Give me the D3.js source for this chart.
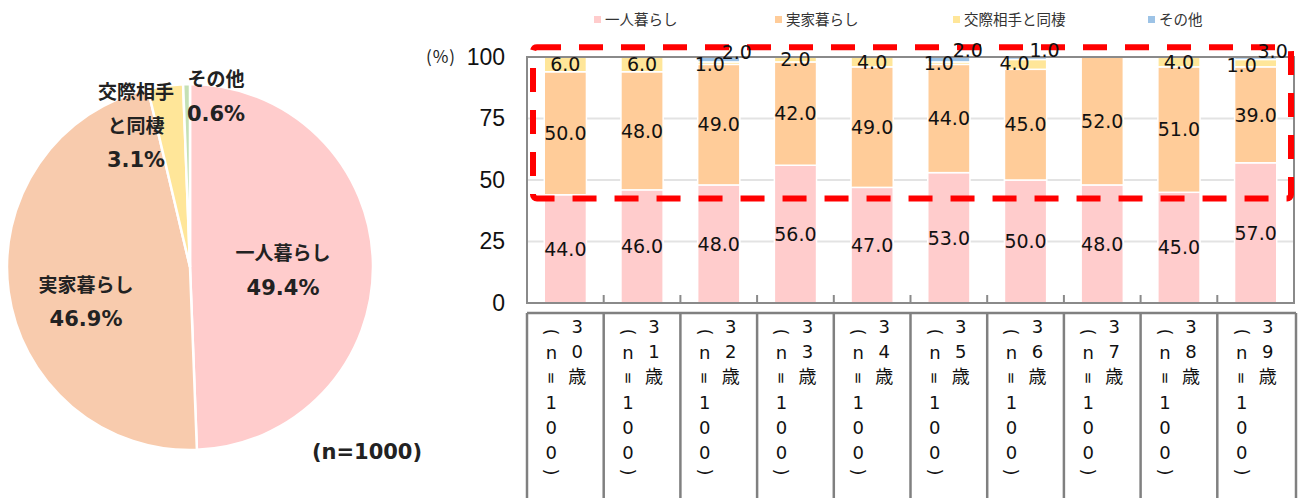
<!DOCTYPE html>
<html>
<head>
<meta charset="utf-8">
<script src="https://cdn.jsdelivr.net/npm/d3@7"></script>
<style>
  body { margin: 0; background: #fff; }
  svg { display: block; }
</style>
</head>
<body>
<svg id="chart"></svg>
<script>
// Living situation chart: overall pie + stacked bars by age

const pieNames = ['一人暮らし', '実家暮らし', '交際相手と同棲', 'その他'];
const pieValues = [49.4, 46.9, 3.1, 0.6];
const pieColors = ['#FFCCCC', '#F8CBAD', '#FFE699', '#C5E0B4'];

const ages = ['30歳', '31歳', '32歳', '33歳', '34歳', '35歳', '36歳', '37歳', '38歳', '39歳'];
const sampleText = '(n=100)';
const seriesNames = ['一人暮らし', '実家暮らし', '交際相手と同棲', 'その他'];
const alone = [44, 46, 48, 56, 47, 53, 50, 48, 45, 57];
const parents = [50, 48, 49, 42, 49, 44, 45, 52, 51, 39];
const partner = [6, 6, 1, 2, 4, 1, 4, 0, 4, 3];
const other = [0, 0, 2, 0, 0, 2, 1, 0, 0, 1];
const barColors = ['#FFCCCC', '#FFCC99', '#FFE699', '#9DC3E6'];
const yTicks = [0, 25, 50, 75, 100];

// hand placed labels where two thin segments share the top of a bar
const labelNudge = {
  '32歳': { '交際相手と同棲': [-9, 7], 'その他': [18, -5] },
  '35歳': { '交際相手と同棲': [-10, 6], 'その他': [19, -7] },
  '36歳': { '交際相手と同棲': [-11, 6], 'その他': [19, -7] },
  '39歳': { 'その他': [-14, 8], '交際相手と同棲': [17, -6] }
};

const W = 1304, H = 498;
const svg = d3.select('#chart').attr('width', W).attr('height', H);

const jp = '"Noto Sans CJK JP", "DejaVu Sans", sans-serif';
const num = '"DejaVu Sans", "Noto Sans CJK JP", sans-serif';

// ---------- pie ----------
const pieG = svg.append('g').attr('transform', 'translate(190,267)');
const pie = d3.pie().sort(null).value(d => d.v);
const arc = d3.arc().innerRadius(0).outerRadius(183);
const pieData = pie(pieNames.map((n, i) => ({ n, v: pieValues[i], c: pieColors[i] })));

pieG.selectAll('path')
  .data(pieData)
  .enter()
  .append('path')
  .attr('d', arc)
  .attr('fill', d => d.data.c)
  .attr('stroke', '#fff')
  .attr('stroke-width', 2.5);

// pie labels (name lines + percent)
const pieLabels = [
  { lines: ['一人暮らし'], x: 283, y: 253, gap: 35 },
  { lines: ['実家暮らし'], x: 86, y: 285, gap: 34 },
  { lines: ['交際相手', 'と同棲'], x: 136, y: 92, gap: 34 },
  { lines: ['その他'], x: 216, y: 79, gap: 35 }
];
pieLabels.forEach((p, i) => {
  p.lines.forEach((t, j) => {
    svg.append('text')
      .attr('x', p.x).attr('y', p.y + j * p.gap)
      .attr('text-anchor', 'middle').attr('dy', '0.35em')
      .style('font-family', jp).style('font-weight', 'bold')
      .style('font-size', '19px').style('fill', '#222')
      .text(t);
  });
  svg.append('text')
    .attr('x', p.x).attr('y', p.y + p.lines.length * p.gap)
    .attr('text-anchor', 'middle').attr('dy', '0.35em')
    .style('font-family', num).style('font-weight', 'bold')
    .style('font-size', '21px').style('fill', '#222')
    .text(pieValues[i].toFixed(1) + '%');
});

svg.append('text')
  .attr('x', 367).attr('y', 452)
  .attr('text-anchor', 'middle').attr('dy', '0.35em')
  .style('font-family', num).style('font-weight', 'bold')
  .style('font-size', '21px').style('fill', '#222')
  .text('(n=1000)');

// ---------- stacked bars ----------
const x0 = 527, x1 = 1294, yTop = 57, yBot = 303;

const xScale = d3.scaleBand().domain(ages).range([x0, x1]).padding(0);
const yScale = d3.scaleLinear().domain([0, 100]).range([yBot, yTop]);
const barW = xScale.bandwidth() * 0.55;

// gridlines
svg.append('g').selectAll('line')
  .data(yTicks.filter(t => t > 0 && t < 100))
  .enter().append('line')
  .attr('x1', x0).attr('x2', x1)
  .attr('y1', d => yScale(d)).attr('y2', d => yScale(d))
  .style('stroke', '#E3E3E3').style('stroke-width', 2);

const table = ages.map((a, i) => ({
  age: a,
  '一人暮らし': alone[i],
  '実家暮らし': parents[i],
  '交際相手と同棲': partner[i],
  'その他': other[i]
}));
const stacked = d3.stack().keys(seriesNames)(table);

const layers = svg.append('g').selectAll('g')
  .data(stacked)
  .enter().append('g')
  .attr('fill', (d, i) => barColors[i]);

layers.selectAll('rect')
  .data(d => d.filter(s => s[1] - s[0] > 0))
  .enter().append('rect')
  .attr('x', d => xScale(d.data.age) + (xScale.bandwidth() - barW) / 2)
  .attr('y', d => yScale(d[1]))
  .attr('width', barW)
  .attr('height', d => yScale(d[0]) - yScale(d[1]))
  .attr('stroke', '#fff')
  .attr('stroke-width', 1.5);

// plot frame
svg.append('rect')
  .attr('x', x0).attr('y', yTop)
  .attr('width', x1 - x0).attr('height', yBot - yTop)
  .attr('fill', 'none')
  .style('stroke', '#8A8A8A').style('stroke-width', 2);

// category tick marks at boundaries
svg.append('g').selectAll('line')
  .data(ages.slice(1))
  .enter().append('line')
  .attr('x1', d => xScale(d)).attr('x2', d => xScale(d))
  .attr('y1', yBot).attr('y2', yBot - 8)
  .style('stroke', '#8A8A8A').style('stroke-width', 2);

// red dashed highlight box
svg.append('rect')
  .attr('x', x0 + 6).attr('y', yScale(104))
  .attr('width', (x1 - 3) - (x0 + 6))
  .attr('height', yScale(42.5) - yScale(104))
  .attr('rx', 4)
  .attr('fill', 'none')
  .style('stroke', '#FF0000')
  .style('stroke-width', 6)
  .style('stroke-dasharray', '24 18');

// data labels
stacked.forEach(layer => {
  layer.forEach(s => {
    const v = s[1] - s[0];
    if (v <= 0) return;
    const cx = xScale(s.data.age) + xScale.bandwidth() / 2;
    let lx = cx, ly = yScale((s[0] + s[1]) / 2);
    const nudge = labelNudge[s.data.age] && labelNudge[s.data.age][layer.key];
    if (nudge) {
      lx = cx + nudge[0];
      ly = yScale(100) + nudge[1];
    }
    svg.append('text')
      .attr('x', lx).attr('y', ly)
      .attr('text-anchor', 'middle').attr('dy', '0.36em')
      .style('font-family', num).style('font-size', '19px')
      .style('fill', '#111')
      .text(v.toFixed(1));
  });
});

// y axis
const yAxis = d3.axisLeft(yScale).tickValues(yTicks).tickSize(0).tickPadding(22);
const yG = svg.append('g').attr('transform', `translate(${x0},0)`).call(yAxis);
yG.select('.domain').remove();
yG.selectAll('text')
  .style('font-family', '"Liberation Sans", Arial, sans-serif')
  .style('font-size', '23px')
  .style('fill', '#111');

svg.append('text')
  .attr('x', 441).attr('y', yScale(100))
  .attr('text-anchor', 'middle').attr('dy', '0.35em')
  .style('font-family', jp).style('font-size', '17px')
  .style('letter-spacing', '1px')
  .style('fill', '#222')
  .text('(%)');

// category cells with vertical text
const cellTop = 313;
svg.append('line')
  .attr('x1', x0).attr('x2', x1 + 2)
  .attr('y1', cellTop).attr('y2', cellTop)
  .style('stroke', '#808080').style('stroke-width', 2.5);
svg.append('g').selectAll('line')
  .data(ages.map(a => xScale(a)).concat([x1 + 2]))
  .enter().append('line')
  .attr('x1', d => d).attr('x2', d => d)
  .attr('y1', cellTop).attr('y2', H)
  .style('stroke', '#808080').style('stroke-width', 2.5);

const rotated = new Set(['(', ')', '=']);
ages.forEach(a => {
  const cx = xScale(a) + xScale.bandwidth() / 2;
  // right column: age
  Array.from(a).forEach((ch, i) => {
    svg.append('text')
      .attr('x', cx + 12).attr('y', 327 + i * 25)
      .attr('text-anchor', 'middle').attr('dy', '0.36em')
      .style('font-family', num).style('font-size', '18px')
      .style('fill', '#111')
      .text(ch);
  });
  // left column: sample size
  Array.from(sampleText).forEach((ch, i) => {
    let y = 353 + (i - 1) * 25;
    if (ch === '(') y += 4;
    if (ch === ')') y -= 6;
    const t = svg.append('text')
      .attr('x', cx - 14).attr('y', y)
      .attr('text-anchor', 'middle').attr('dy', '0.36em')
      .style('font-family', num).style('font-size', '18px')
      .style('fill', '#111')
      .text(ch);
    if (rotated.has(ch)) {
      t.attr('transform', `rotate(90,${cx - 14},${y})`)
        .style('font-size', ch === '=' ? '15px' : '17px');
    }
  });
});

// legend
const legendX = [594, 775, 953, 1148];
seriesNames.forEach((n, i) => {
  svg.append('rect')
    .attr('x', legendX[i]).attr('y', 16)
    .attr('width', 7).attr('height', 7)
    .attr('fill', barColors[i]);
  svg.append('text')
    .attr('x', legendX[i] + 11).attr('y', 20)
    .attr('dy', '0.36em')
    .style('font-family', jp).style('font-size', '14.5px')
    .style('fill', '#333')
    .text(n);
});
</script>
</body>
</html>
